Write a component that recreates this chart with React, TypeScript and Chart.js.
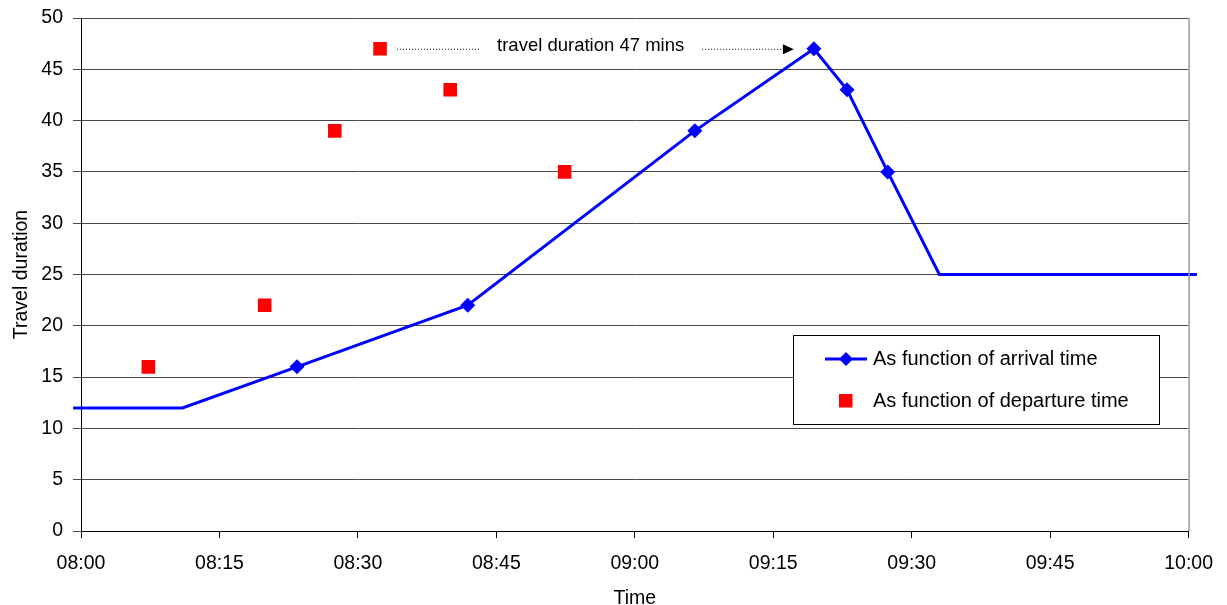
import React, { useEffect, useRef } from "react";
import { Chart, registerables } from "chart.js";

Chart.register(...registerables);

// ---- data (minutes after 08:00) ----
const arrivalLabel = "As function of arrival time";
const departureLabel = "As function of departure time";
const lineMinutes = [-0.85, 11, 23.4, 41.9, 66.5, 79.4, 83, 87.4, 93, 120.9];
const lineDurations = [12, 12, 16, 22, 39, 47, 43, 35, 25, 25];
const lineHasMarker = [false, false, true, true, true, true, true, true, false, false];
const departureMinutes = [7.3, 19.9, 27.5, 32.4, 40, 52.4];
const departureDurations = [16, 22, 39, 47, 43, 35];
const xTickLabels = ["08:00", "08:15", "08:30", "08:45", "09:00", "09:15", "09:30", "09:45", "10:00"];
const yTicks = [0, 5, 10, 15, 20, 25, 30, 35, 40, 45, 50];
const annotationText = "travel duration 47 mins";
const annotatedIndex = 3; // departure 47 -> arrival 47
const xTitle = "Time";
const yTitle = "Travel duration";

const FONT = "'Liberation Sans', Arial, sans-serif";

const extrasPlugin = {
  id: "extras",
  afterDraw(chart: any) {
    const { ctx, chartArea, scales } = chart;
    const xs = scales.x;
    const ys = scales.y;
    ctx.save();
    // right border of the plot
    ctx.strokeStyle = "#9a9a9a";
    ctx.lineWidth = 1.5;
    ctx.beginPath();
    ctx.moveTo(chartArea.right + 0.5, chartArea.top);
    ctx.lineTo(chartArea.right + 0.5, chartArea.bottom);
    ctx.stroke();

    // annotation
    const depX = xs.getPixelForValue(departureMinutes[annotatedIndex]);
    const arrX = xs.getPixelForValue(lineMinutes[lineHasMarker.indexOf(true) + annotatedIndex]);
    const yv = ys.getPixelForValue(departureDurations[annotatedIndex]) + 0.5;
    ctx.font = `18.5px ${FONT}`;
    ctx.fillStyle = "#000";
    ctx.textAlign = "center";
    ctx.textBaseline = "middle";
    const tw = ctx.measureText(annotationText).width;
    const left1 = depX + 17;
    const right2 = arrX - 20;
    const textCenter = left1 + 100 + tw / 2;
    ctx.fillText(annotationText, textCenter, yv - 3);
    ctx.strokeStyle = "#000";
    ctx.lineWidth = 1;
    ctx.setLineDash([1, 2]);
    ctx.beginPath();
    ctx.moveTo(left1, yv);
    ctx.lineTo(textCenter - tw / 2 - 18, yv);
    ctx.moveTo(textCenter + tw / 2 + 18, yv);
    ctx.lineTo(right2 - 10, yv);
    ctx.stroke();
    ctx.setLineDash([]);
    ctx.beginPath();
    ctx.moveTo(right2, yv);
    ctx.lineTo(right2 - 11, yv - 5);
    ctx.lineTo(right2 - 11, yv + 5);
    ctx.closePath();
    ctx.fill();

    // legend box
    const bx = 793, by = 335, bw = 366, bh = 89;
    ctx.fillStyle = "#fff";
    ctx.fillRect(bx, by, bw, bh);
    ctx.strokeStyle = "#000";
    ctx.lineWidth = 1;
    ctx.strokeRect(bx + 0.5, by + 0.5, bw, bh);
    // entry 1
    const y1 = 359, y2 = 401;
    ctx.strokeStyle = "#0000ff";
    ctx.lineWidth = 3;
    ctx.beginPath();
    ctx.moveTo(825, y1);
    ctx.lineTo(867, y1);
    ctx.stroke();
    ctx.fillStyle = "#0000ff";
    ctx.beginPath();
    ctx.moveTo(846, y1 - 7);
    ctx.lineTo(853, y1);
    ctx.lineTo(846, y1 + 7);
    ctx.lineTo(839, y1);
    ctx.closePath();
    ctx.fill();
    // entry 2
    ctx.fillStyle = "#ff0000";
    ctx.fillRect(839, y2 - 7, 13.5, 13.5);
    ctx.fillStyle = "#000";
    ctx.font = `20px ${FONT}`;
    ctx.textAlign = "left";
    ctx.textBaseline = "middle";
    ctx.fillText(chart.data.datasets[0].label, 873, y1);
    ctx.fillText(chart.data.datasets[1].label, 873, y2);
    ctx.restore();
  },
};

export default function App() {
  const ref = useRef<HTMLCanvasElement | null>(null);
  useEffect(() => {
    document.body.style.margin = "0";
    const canvas = ref.current!;
    const chart = new Chart(canvas, {
      type: "scatter",
      data: {
        datasets: [
          {
            label: arrivalLabel,
            data: lineMinutes.map((m, i) => ({ x: m, y: lineDurations[i] })),
            showLine: true,
            borderColor: "#0000ff",
            backgroundColor: "#0000ff",
            borderWidth: 3,
            pointStyle: "rectRot",
            pointRadius: lineHasMarker.map((h) => (h ? 7.5 : 0)),
            pointBorderWidth: 0,
            pointHoverRadius: 0,
            clip: 12,
            tension: 0,
            order: 1,
          } as any,
          {
            label: departureLabel,
            data: departureMinutes.map((m, i) => ({ x: m, y: departureDurations[i] })),
            showLine: false,
            borderColor: "#ff0000",
            backgroundColor: "#ff0000",
            pointStyle: "rect",
            pointRadius: 9.6,
            pointBorderWidth: 0,
            order: 2,
          } as any,
        ],
      },
      options: {
        animation: false,
        responsive: false,
        maintainAspectRatio: false,
        layout: { padding: { top: 18, right: 38, left: 0, bottom: 0 } },
        plugins: { legend: { display: false }, tooltip: { enabled: false } },
        events: [],
        scales: {
          x: {
            type: "linear",
            min: 0,
            max: 120,
            afterBuildTicks: (scale: any) => {
              scale.ticks = xTickLabels.map((_, i) => ({ value: i * 15 }));
            },
            afterFit: (scale: any) => {
              scale.height = 74;
            },
            ticks: {
              callback: (v: any) => xTickLabels[Math.round(Number(v) / 15)],
              color: "#000",
              font: { family: FONT, size: 19.5 },
              padding: 14,
              maxRotation: 0,
              autoSkip: false,
            },
            grid: { drawOnChartArea: false, drawTicks: true, tickLength: 7, color: "#000" },
            border: { color: "#000", width: 1 },
            title: {
              display: true,
              text: xTitle,
              color: "#000",
              font: { family: FONT, size: 19.5 },
              padding: { top: 0, bottom: -5 },
            },
          },
          y: {
            min: 0,
            max: 50,
            afterBuildTicks: (scale: any) => {
              scale.ticks = yTicks.map((v) => ({ value: v }));
            },
            afterFit: (scale: any) => {
              scale.width = 81;
              scale.paddingTop = 0;
              scale.paddingBottom = 0;
            },
            ticks: {
              color: "#000",
              font: { family: FONT, size: 19.5 },
              padding: 10,
            },
            grid: { color: "#4a4a4a", lineWidth: 1, drawTicks: true, tickLength: 8 },
            border: { color: "#000", width: 1 },
            title: {
              display: true,
              text: yTitle,
              color: "#000",
              font: { family: FONT, size: 19.5 },
              padding: { top: 10, bottom: 0 },
            },
          },
        },
      },
      plugins: [extrasPlugin],
    });
    return () => chart.destroy();
  }, []);
  return (
    <div style={{ position: "absolute", left: 0, top: 0, width: 1227, height: 605 }}>
      <canvas ref={ref} width={1227} height={605} style={{ width: 1227, height: 605 }} />
    </div>
  );
}
